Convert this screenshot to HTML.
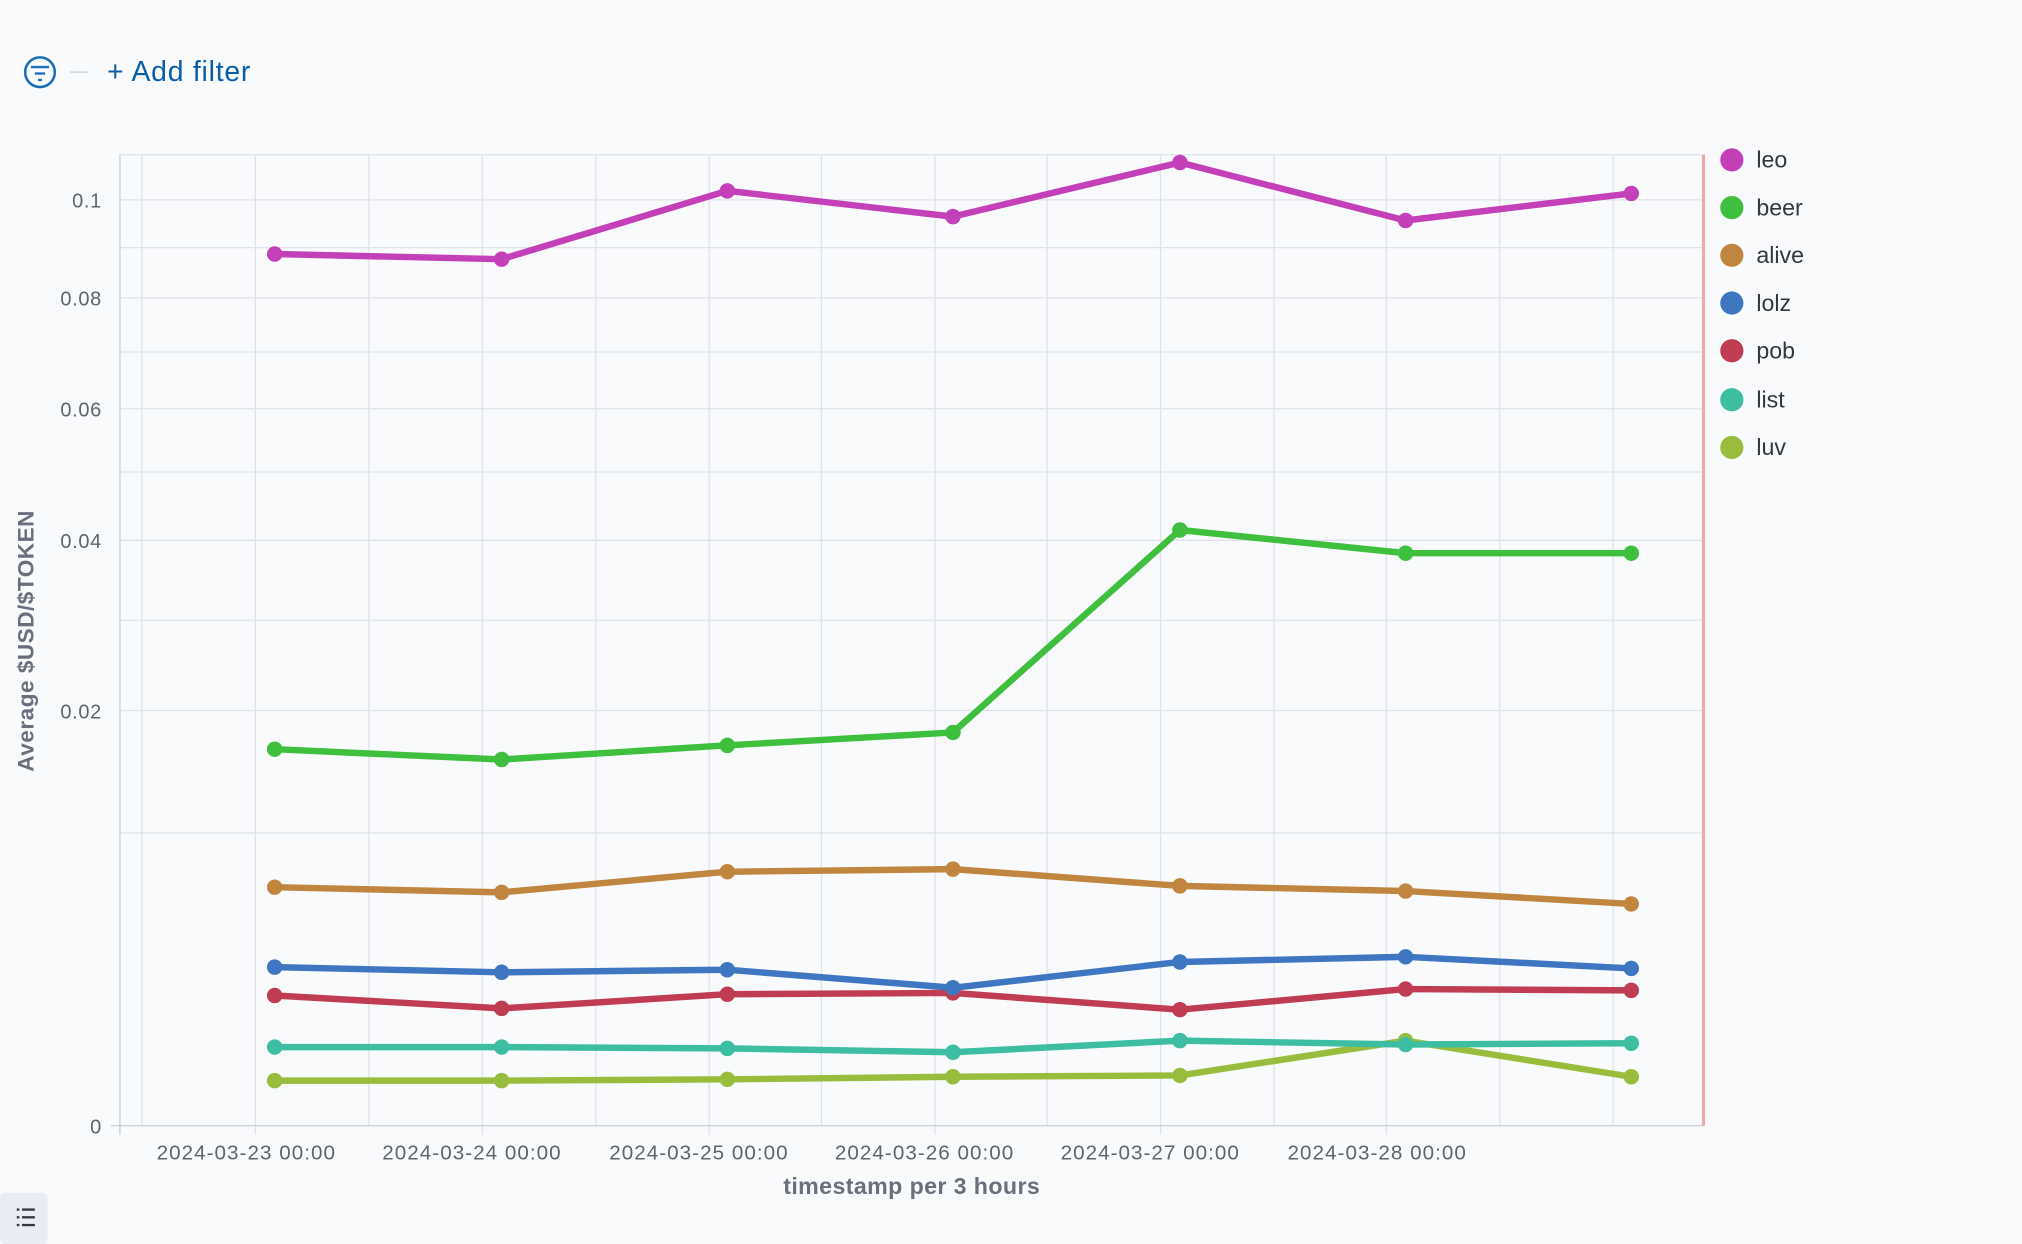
<!DOCTYPE html>
<html><head><meta charset="utf-8"><style>
html,body{margin:0;padding:0;background:#f9fafc;}
svg{display:block;}
text{font-family:"Liberation Sans","DejaVu Sans",sans-serif;}
</style></head><body>
<svg width="2022" height="1244" viewBox="0 0 1568 964.7" xmlns="http://www.w3.org/2000/svg">
<rect width="1568" height="965" fill="#f9fafc"/>
<!-- filter bar -->
<circle cx="31" cy="56" r="11.5" fill="none" stroke="#1a6fb8" stroke-width="2"/>
<line x1="24" y1="52" x2="38" y2="52" stroke="#1a6fb8" stroke-width="1.8"/>
<line x1="27" y1="57" x2="35" y2="57" stroke="#1a6fb8" stroke-width="1.8"/>
<line x1="29.5" y1="62" x2="32.5" y2="62" stroke="#1a6fb8" stroke-width="1.8"/>
<line x1="54" y1="56" x2="68" y2="56" stroke="#d3dae6" stroke-width="1.5"/>
<text x="83" y="63" font-size="22" fill="#0b5ea8" letter-spacing="0.6">+ Add filter</text>
<!-- grid -->
<g stroke="#dfe2e8" stroke-width="1">
<line x1="93" y1="120" x2="1321" y2="120"/>
<line x1="93" y1="155" x2="1321" y2="155"/>
<line x1="93" y1="192" x2="1321" y2="192"/>
<line x1="93" y1="231" x2="1321" y2="231"/>
<line x1="93" y1="273" x2="1321" y2="273"/>
<line x1="93" y1="317" x2="1321" y2="317"/>
<line x1="93" y1="366" x2="1321" y2="366"/>
<line x1="93" y1="419" x2="1321" y2="419"/>
<line x1="93" y1="481" x2="1321" y2="481"/>
<line x1="93" y1="551" x2="1321" y2="551"/>
<line x1="93" y1="646" x2="1321" y2="646"/>
<line x1="110" y1="120" x2="110" y2="873"/>
<line x1="198" y1="120" x2="198" y2="880"/>
<line x1="286" y1="120" x2="286" y2="873"/>
<line x1="374" y1="120" x2="374" y2="880"/>
<line x1="462" y1="120" x2="462" y2="873"/>
<line x1="550" y1="120" x2="550" y2="880"/>
<line x1="637" y1="120" x2="637" y2="873"/>
<line x1="725" y1="120" x2="725" y2="880"/>
<line x1="812" y1="120" x2="812" y2="873"/>
<line x1="900" y1="120" x2="900" y2="880"/>
<line x1="988" y1="120" x2="988" y2="873"/>
<line x1="1075" y1="120" x2="1075" y2="880"/>
<line x1="1163" y1="120" x2="1163" y2="873"/>
<line x1="1251" y1="120" x2="1251" y2="873"/>
</g>
<line x1="93" y1="120" x2="93" y2="880" stroke="#c8ccd4"/>
<line x1="86" y1="873" x2="1321" y2="873" stroke="#c8ccd4"/>
<line x1="1321" y1="120" x2="1321" y2="873" stroke="#f0a8a8" stroke-width="2.5"/>
<!-- y labels -->
<g font-size="15.5" fill="#5e646f" text-anchor="end" letter-spacing="0.5">
<text x="79" y="161">0.1</text>
<text x="79" y="237">0.08</text>
<text x="79" y="323">0.06</text>
<text x="79" y="425">0.04</text>
<text x="79" y="557">0.02</text>
<text x="79" y="879">0</text>
</g>
<text transform="translate(26,497) rotate(-90)" font-size="17.5" font-weight="bold" fill="#69707d" text-anchor="middle" letter-spacing="0.4">Average $USD/$TOKEN</text>
<g font-size="16" fill="#5e646f" text-anchor="middle" letter-spacing="0.8">
<text x="191" y="899">2024-03-23 00:00</text>
<text x="366" y="899">2024-03-24 00:00</text>
<text x="542" y="899">2024-03-25 00:00</text>
<text x="717" y="899">2024-03-26 00:00</text>
<text x="892" y="899">2024-03-27 00:00</text>
<text x="1068" y="899">2024-03-28 00:00</text>
</g>
<text x="707" y="926" font-size="18" font-weight="bold" fill="#69707d" text-anchor="middle" letter-spacing="0.3">timestamp per 3 hours</text>
<!-- series -->
<g fill="none" stroke-width="5" stroke-linejoin="round">
<polyline stroke="#98bd3d" points="213,838 389,838 564,837 739,835 915,834 1090,807 1265,835"/>
<polyline stroke="#3dbea3" points="213,812 389,812 564,813 739,816 915,807 1090,810 1265,809"/>
<polyline stroke="#c03c52" points="213,772 389,782 564,771 739,770 915,783 1090,767 1265,768"/>
<polyline stroke="#3e76c1" points="213,750 389,754 564,752 739,766 915,746 1090,742 1265,751"/>
<polyline stroke="#c0863f" points="213,688 389,692 564,676 739,674 915,687 1090,691 1265,701"/>
<polyline stroke="#3ebf3e" points="213,581 389,589 564,578 739,568 915,411 1090,429 1265,429"/>
<polyline stroke="#c340b9" points="213,197 389,201 564,148 739,168 915,126 1090,171 1265,150"/>
</g>
<g fill="#98bd3d"><circle cx="213" cy="838" r="6"/><circle cx="389" cy="838" r="6"/><circle cx="564" cy="837" r="6"/><circle cx="739" cy="835" r="6"/><circle cx="915" cy="834" r="6"/><circle cx="1090" cy="807" r="6"/><circle cx="1265" cy="835" r="6"/></g>
<g fill="#3dbea3"><circle cx="213" cy="812" r="6"/><circle cx="389" cy="812" r="6"/><circle cx="564" cy="813" r="6"/><circle cx="739" cy="816" r="6"/><circle cx="915" cy="807" r="6"/><circle cx="1090" cy="810" r="6"/><circle cx="1265" cy="809" r="6"/></g>
<g fill="#c03c52"><circle cx="213" cy="772" r="6"/><circle cx="389" cy="782" r="6"/><circle cx="564" cy="771" r="6"/><circle cx="739" cy="770" r="6"/><circle cx="915" cy="783" r="6"/><circle cx="1090" cy="767" r="6"/><circle cx="1265" cy="768" r="6"/></g>
<g fill="#3e76c1"><circle cx="213" cy="750" r="6"/><circle cx="389" cy="754" r="6"/><circle cx="564" cy="752" r="6"/><circle cx="739" cy="766" r="6"/><circle cx="915" cy="746" r="6"/><circle cx="1090" cy="742" r="6"/><circle cx="1265" cy="751" r="6"/></g>
<g fill="#c0863f"><circle cx="213" cy="688" r="6"/><circle cx="389" cy="692" r="6"/><circle cx="564" cy="676" r="6"/><circle cx="739" cy="674" r="6"/><circle cx="915" cy="687" r="6"/><circle cx="1090" cy="691" r="6"/><circle cx="1265" cy="701" r="6"/></g>
<g fill="#3ebf3e"><circle cx="213" cy="581" r="6"/><circle cx="389" cy="589" r="6"/><circle cx="564" cy="578" r="6"/><circle cx="739" cy="568" r="6"/><circle cx="915" cy="411" r="6"/><circle cx="1090" cy="429" r="6"/><circle cx="1265" cy="429" r="6"/></g>
<g fill="#c340b9"><circle cx="213" cy="197" r="6"/><circle cx="389" cy="201" r="6"/><circle cx="564" cy="148" r="6"/><circle cx="739" cy="168" r="6"/><circle cx="915" cy="126" r="6"/><circle cx="1090" cy="171" r="6"/><circle cx="1265" cy="150" r="6"/></g>
<!-- legend -->
<g font-size="18" fill="#343741">
<circle cx="1343" cy="124" r="9" fill="#c340b9"/><text x="1362" y="130">leo</text>
<circle cx="1343" cy="161" r="9" fill="#3ebf3e"/><text x="1362" y="167">beer</text>
<circle cx="1343" cy="198" r="9" fill="#c0863f"/><text x="1362" y="204">alive</text>
<circle cx="1343" cy="235" r="9" fill="#3e76c1"/><text x="1362" y="241">lolz</text>
<circle cx="1343" cy="272" r="9" fill="#c03c52"/><text x="1362" y="278">pob</text>
<circle cx="1343" cy="310" r="9" fill="#3dbea3"/><text x="1362" y="316">list</text>
<circle cx="1343" cy="347" r="9" fill="#98bd3d"/><text x="1362" y="353">luv</text>
</g>
<!-- bottom-left button -->
<rect x="0" y="925" width="37" height="40" rx="4" fill="#e9edf3"/>
<g stroke="#343741" stroke-width="1.8">
<line x1="13" y1="938" x2="15" y2="938"/><line x1="17" y1="938" x2="27" y2="938"/>
<line x1="13" y1="944" x2="15" y2="944"/><line x1="17" y1="944" x2="27" y2="944"/>
<line x1="13" y1="950" x2="15" y2="950"/><line x1="17" y1="950" x2="27" y2="950"/>
</g>
</svg>
</body></html>
